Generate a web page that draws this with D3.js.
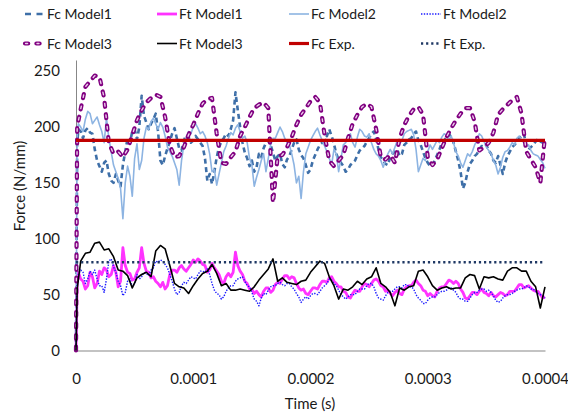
<!DOCTYPE html>
<html>
<head>
<meta charset="utf-8">
<script src="https://cdn.jsdelivr.net/npm/d3@7"></script>
<style>
  body { margin: 0; background: #fff; }
  svg { display: block; }
  text { font-family: Lato, "Open Sans", sans-serif; fill: #1a1a1a; }
</style>
</head>
<body>
<svg id="chart" width="568" height="412"></svg>
<script>
// Sampling grids: a start-up point at 1 µs, then every 2 µs (fine) or 4 µs (coarse) up to 0.4 ms
const timeFine = [0, 0.000001].concat(d3.range(1, 201).map(k => +(k * 0.000002).toFixed(9)));
const timeCoarse = [0, 0.000001].concat(d3.range(1, 101).map(k => +(k * 0.000004).toFixed(9)));

// Cutting force Fc (N/mm), models
const fcModel1 = [0, 185,
  198,196, 190,197, 199,195, 194,180, 170,165, 160,168, 170,158, 152,150, 158,152, 147,166,
  178,190, 186,196, 198,189, 200,228, 210,204, 198,203, 207,212, 196,170, 166,174, 181,187,
  194,199, 190,181, 179,188, 193,191, 186,188, 192,189, 186,183, 172,152, 158,149, 160,173,
  182,187, 190,194, 192,198, 206,231, 215,200, 186,177, 172,165, 170,160, 164,176, 173,181,
  186,188, 184,177, 170,174, 176,167, 164,171, 174,180, 186,189, 180,175, 172,166, 159,162,
  170,175, 180,184, 186,190, 192,198, 192,185, 176,171, 168,165, 160,162, 166,168, 170,175,
  179,181, 183,187, 190,194, 196,189, 180,173, 170,167, 166,173, 176,178, 180,174, 176,184,
  186,189, 190,194, 196,188, 184,178, 172,168, 165,166, 170,175, 180,186, 188,191, 194,191,
  186,178, 170,160, 145,150, 160,167, 170,174, 176,180, 183,182, 184,179, 176,170, 168,174,
  166,158, 168,174, 178,182, 184,187, 190,192, 194,184, 180,182, 184,187, 189,187, 186,186];

const fcModel2 = [0, 195,
  203,200, 196,207, 214,212, 203,206, 209,202, 196,186, 208,190, 178,166, 160,154, 145,118,
  150,165, 156,138, 172,185, 162,170, 190,200, 198,205, 208,203, 198,204, 200,192, 182,178,
  174,168, 162,148, 170,184, 190,196, 194,200, 203,199, 194,196, 192,186, 176,160, 162,148,
  158,168, 178,183, 190,195, 193,199, 202,196, 190,192, 186,172, 166,147, 155,162, 170,176,
  160,172, 184,190, 190,195, 200,196, 190,186, 184,176, 166,150, 156,136, 160,176, 182,188,
  192,196, 199,193, 188,183, 178,172, 166,180, 176,160, 172,184, 186,190, 194,186, 182,191,
  198,196, 192,191, 194,186, 180,176, 174,170, 164,170, 176,180, 176,182, 188,185, 188,194,
  196,197, 198,193, 180,160, 166,172, 170,178, 184,180, 184,188, 186,191, 194,193, 188,192,
  186,178, 174,168, 164,170, 176,174, 178,184, 188,194, 192,187, 182,179, 176,170, 166,158,
  164,173, 178,179, 182,186, 184,190, 192,188, 186,183, 184,179, 176,175, 174,171, 168,163];

const fcModel3 = [0, 200,
  216, 236, 241, 246, 245, 226, 186, 176, 178, 173,
  180, 193, 206, 215, 222, 226, 229, 227, 209, 184,
  173, 174, 182, 193, 202, 212, 221, 225, 226, 194,
  168, 167, 173, 178, 192, 200, 209, 217, 220, 222,
  217, 132, 174, 175, 182, 191, 202, 211, 217, 223,
  227, 222, 193, 170, 165, 170, 175, 190, 203, 211,
  218, 221, 218, 198, 173, 171, 175, 168, 190, 202,
  210, 216, 218, 211, 173, 166, 171, 181, 191, 199,
  206, 212, 217, 217, 205, 179, 182, 186, 195, 211,
  216, 220, 224, 227, 212, 178, 171, 164, 150, 192];

// Thrust force Ft (N/mm), models
const ftModel1 = [0, 60,
  70,64, 62,55, 58,70, 66,56, 60,71, 68,74, 72,66, 68,76, 70,57, 62,92,
  76,70, 69,63, 64,70, 74,92, 78,71, 70,65, 66,62, 60,57, 61,55, 58,68,
  72,72, 70,74, 76,73, 71,74, 77,81, 79,82, 80,77, 76,70, 72,78, 74,71,
  68,62, 60,66, 69,66, 70,88, 76,71, 68,62, 60,55, 55,51, 53,50, 48,53,
  56,56, 52,54, 59,61, 60,64, 67,67, 64,66, 65,60, 56,54, 55,51, 50,53,
  56,56, 55,59, 62,62, 61,65, 66,62, 60,57, 57,53, 52,48, 47,51, 54,53,
  53,57, 60,59, 57,60, 63,64, 62,58, 57,53, 54,51, 49,52, 54,51, 50,55,
  57,58, 58,61, 63,60, 58,54, 53,49, 51,49, 48,53, 56,57, 57,60, 63,62,
  60,62, 60,55, 52,47, 46,49, 52,52, 50,53, 55,52, 51,49, 52,49, 48,50,
  52,51, 49,50, 53,53, 53,56, 59,59, 56,57, 58,56, 54,53, 53,50, 47,48];

const ftModel2 = [0, 65,
  68,72, 70,60, 64,71, 68,72, 64,58, 58,52, 64,80, 82,75, 70,62, 58,49,
  52,62, 64,57, 60,68, 64,66, 70,69, 67,72, 74,80, 79,81, 80,77, 74,68,
  62,55, 50,52, 58,61, 60,63, 66,65, 64,68, 71,71, 70,73, 68,60, 54,51,
  50,46, 48,53, 56,58, 58,62, 64,65, 66,62, 58,57, 52,46, 44,40, 47,51,
  50,54, 57,58, 58,60, 61,59, 58,60, 60,57, 55,51, 48,43, 46,48, 46,49,
  51,51, 50,53, 56,58, 60,64, 63,60, 58,54, 50,48, 46,48, 50,50, 50,53,
  55,55, 55,58, 60,60, 57,51, 47,46, 45,49, 52,53, 53,55, 57,57, 56,59,
  59,57, 57,55, 50,47, 45,42, 42,45, 47,48, 48,50, 52,53, 53,54, 56,56,
  54,52, 48,46, 46,44, 44,47, 50,52, 52,54, 55,55, 53,54, 52,49, 45,43,
  44,47, 49,50, 50,51, 53,54, 55,55, 56,58, 57,55, 55,53, 51,50, 49,47];

const ftModel3 = [0, 55,
  80, 87, 88, 96, 97, 90, 91, 84, 72, 71,
  67, 56, 65, 68, 70, 66, 89, 94, 91, 76,
  60, 57, 56, 51, 58, 64, 69, 71, 77, 69,
  58, 60, 54, 54, 55, 54, 53, 57, 63, 68,
  73, 82, 62, 65, 61, 60, 59, 62, 63, 70,
  75, 80, 78, 66, 58, 46, 55, 54, 57, 62,
  59, 64, 66, 74, 60, 57, 52, 40, 56, 54,
  57, 58, 71, 72, 66, 58, 54, 56, 57, 55,
  56, 56, 65, 68, 67, 55, 66, 65, 66, 64,
  63, 71, 74, 74, 71, 71, 62, 57, 38, 57];

// Experimental mean forces
const expTime = [0, 0.0004];
const fcExp = [188, 188];
const ftExp = [79, 79];

// Axis ticks
const xTicks = [0, 0.0001, 0.0002, 0.0003, 0.0004];
const xTickLabels = ["0", "0.0001", "0.0002", "0.0003", "0.0004"];
const yTicks = [0, 50, 100, 150, 200, 250];

const series = [
  { name: "Fc Model1", t: timeFine,   v: fcModel1, style: "fcM1" },
  { name: "Ft Model1", t: timeFine,   v: ftModel1, style: "ftM1" },
  { name: "Fc Model2", t: timeFine,   v: fcModel2, style: "fcM2" },
  { name: "Ft Model2", t: timeFine,   v: ftModel2, style: "ftM2" },
  { name: "Fc Model3", t: timeCoarse, v: fcModel3, style: "fcM3" },
  { name: "Ft Model3", t: timeCoarse, v: ftModel3, style: "ftM3" },
  { name: "Fc Exp.",   t: expTime,    v: fcExp,    style: "fcExp" },
  { name: "Ft Exp.",   t: expTime,    v: ftExp,    style: "ftExp" }
];

// Stroke styles; Model3 Fc is a hollow (double) dashed line
const styles = {
  fcM1:  [{ stroke: "#3E6FA8", width: 2.6, dash: "5,3.5" }],
  ftM1:  [{ stroke: "#FF33FF", width: 2.8 }],
  fcM2:  [{ stroke: "#8DB4E2", width: 1.6 }],
  ftM2:  [{ stroke: "#1A1AFF", width: 1.4, dash: "1.4,1.4" }],
  fcM3:  [{ stroke: "#800080", width: 4.2, dash: "4,7.5", cap: "round" },
          { stroke: "#EBCDEB", width: 1.4, dash: "2.6,8.9", cap: "round", offset: -0.7 }],
  ftM3:  [{ stroke: "#000000", width: 1.6 }],
  fcExp: [{ stroke: "#C00000", width: 3.2 }],
  ftExp: [{ stroke: "#1F3864", width: 2.6, dash: "2.2,2.9" }]
};
const legendStyles = {
  fcM1:  [{ stroke: "#3E6FA8", width: 2.6, dash: "6,5.5" }],
  fcM3:  [{ stroke: "#800080", width: 4.2, dash: "3.2,8.2", cap: "round" },
          { stroke: "#EBCDEB", width: 1.4, dash: "2,9.4", cap: "round", offset: -0.6 }]
};

const svg = d3.select("#chart");
const x = d3.scaleLinear().domain([0, 0.0004]).range([76, 545]);
const y = d3.scaleLinear().domain([0, 260]).range([350.5, 60]);

// Axes
const xAxis = svg.append("g")
  .attr("transform", `translate(0,${y(0)})`)
  .call(d3.axisBottom(x).tickValues(xTicks)
    .tickFormat((d, i) => xTickLabels[i]).tickSize(0).tickSizeOuter(0));
xAxis.selectAll("text").attr("y", 33).attr("dy", null).style("font-size", "15px");

const yAxis = svg.append("g")
  .attr("transform", `translate(${x(0)},0)`)
  .call(d3.axisLeft(y).tickValues(yTicks).tickSize(0).tickSizeOuter(0).tickPadding(16));
yAxis.selectAll("text").style("font-size", "15px");

svg.selectAll(".domain").attr("stroke", "#878787").attr("stroke-width", 1);
svg.selectAll(".tick text").attr("fill", "#1a1a1a").style("font-family", "Lato, 'Open Sans', sans-serif");

// Axis titles
svg.append("text").attr("x", 310).attr("y", 408.5).attr("text-anchor", "middle")
  .style("font-size", "15px").text("Time (s)");
svg.append("text").attr("transform", "translate(25,186) rotate(-90)")
  .attr("text-anchor", "middle").style("font-size", "15px").text("Force (N/mm)");

// Series
const line = d3.line().x(d => x(d[0])).y(d => y(d[1]));
const plot = svg.append("g");
series.forEach(s => {
  const pts = s.t.map((t, i) => [t, s.v[i]]);
  styles[s.style].forEach(st => {
    plot.append("path")
      .attr("d", line(pts))
      .attr("fill", "none")
      .attr("stroke", st.stroke)
      .attr("stroke-width", st.width)
      .attr("stroke-dasharray", st.dash || null)
      .attr("stroke-dashoffset", st.offset || null)
      .attr("stroke-linecap", st.cap || "butt")
      .attr("stroke-linejoin", "round");
  });
});

// Legend: two rows of four
const legX = [25, 157, 289, 421];
const legY = [14, 43.5];
const legend = svg.append("g");
series.forEach((s, i) => {
  const cx = legX[i % 4], cy = legY[Math.floor(i / 4)];
  const st = legendStyles[s.style] || styles[s.style];
  st.forEach(o => {
    legend.append("line")
      .attr("x1", cx).attr("x2", cx + 20).attr("y1", cy).attr("y2", cy)
      .attr("stroke", o.stroke).attr("stroke-width", o.width)
      .attr("stroke-dasharray", o.dash || null)
      .attr("stroke-dashoffset", o.offset || null)
      .attr("stroke-linecap", o.cap || "butt");
  });
  legend.append("text").attr("x", cx + 22).attr("y", cy + 5)
    .style("font-size", "14px").text(s.name);
});
</script>
</body>
</html>
